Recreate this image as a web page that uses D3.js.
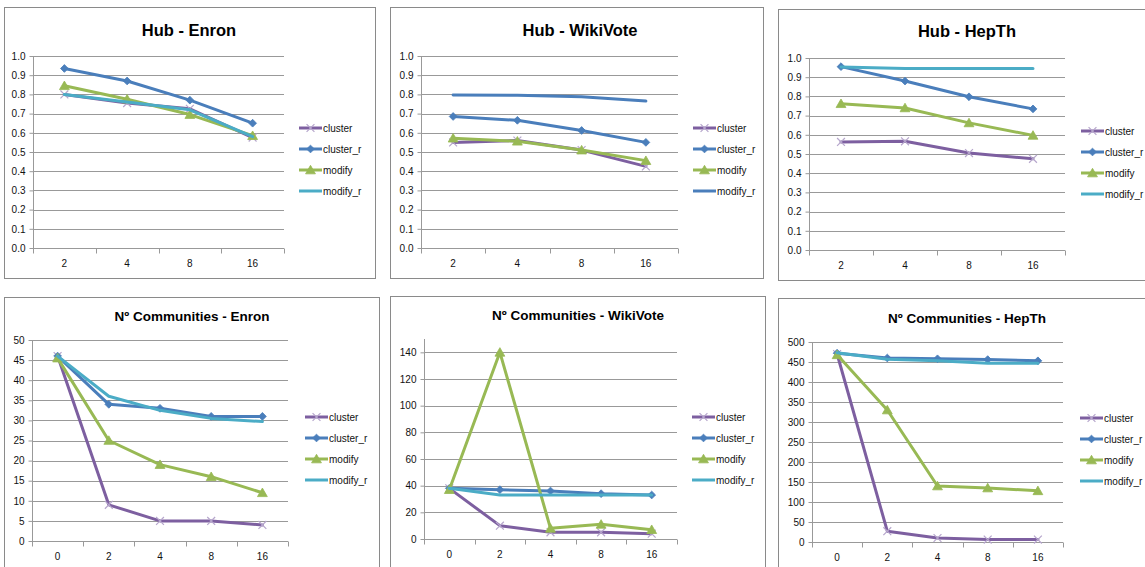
<!DOCTYPE html>
<html>
<head>
<meta charset="utf-8">
<script src="https://cdn.jsdelivr.net/npm/d3@7"></script>
<style>
  html, body { margin: 0; padding: 0; background: #fff; }
  svg { display: block; font-family: "Liberation Sans", Arial, sans-serif; }
</style>
</head>
<body>
<svg id="chart" width="1145" height="567"></svg>
<script>
// ---------------- DATA ----------------
const seriesNames = ["cluster", "cluster_r", "modify", "modify_r"];
const hubCategories = ["2", "4", "8", "16"];
const commCategories = ["0", "2", "4", "8", "16"];

// Hub - Enron
const hubEnronCluster  = [0.80, 0.755, 0.725, 0.575];
const hubEnronClusterR = [0.935, 0.87, 0.77, 0.65];
const hubEnronModify   = [0.845, 0.775, 0.695, 0.585];
const hubEnronModifyR  = [0.80, 0.76, 0.72, 0.58];

// Hub - WikiVote
const hubWikiCluster  = [0.55, 0.56, 0.51, 0.425];
const hubWikiClusterR = [0.685, 0.665, 0.612, 0.55];
const hubWikiModify   = [0.572, 0.556, 0.51, 0.455];
const hubWikiModifyR  = [0.797, 0.795, 0.788, 0.765];

// Hub - HepTh
const hubHepCluster  = [0.563, 0.566, 0.505, 0.475];
const hubHepClusterR = [0.955, 0.88, 0.798, 0.735];
const hubHepModify   = [0.762, 0.74, 0.662, 0.597];
const hubHepModifyR  = [0.953, 0.945, 0.945, 0.945];

// Nº Communities - Enron
const comEnronCluster  = [46, 9, 5, 5, 4];
const comEnronClusterR = [46, 34, 33, 31, 31];
const comEnronModify   = [45.5, 25, 19, 16, 12];
const comEnronModifyR  = [46, 36, 32.5, 30.5, 29.7];

// Nº Communities - WikiVote
const comWikiCluster  = [38, 10, 5, 5, 4];
const comWikiClusterR = [38, 37, 36, 34, 33];
const comWikiModify   = [37, 140, 8, 11, 7];
const comWikiModifyR  = [38, 33, 33, 33, 33];

// Nº Communities - HepTh
const comHepCluster  = [470, 27, 10, 6, 6];
const comHepClusterR = [472, 460, 458, 456, 453];
const comHepModify   = [468, 330, 140, 135, 128];
const comHepModifyR  = [473, 457, 453, 447, 447];

// ---------------- STYLE ----------------
const colors = {
  cluster: "#7D5FA0",
  cluster_r: "#4A7EBB",
  modify: "#98B954",
  modify_r: "#4BACC6"
};
const markerFill = {
  cluster: "#B6A6CC",
  cluster_r: "#4A7EBB",
  modify: "#98B954",
  modify_r: null
};
const gridColor = "#999999";
const borderColor = "#8a8a8a";

// ---------------- LAYOUT ----------------
const charts = [
  { title: "Hub - Enron", cats: hubCategories,
    values: [hubEnronCluster, hubEnronClusterR, hubEnronModify, hubEnronModifyR],
    panel: [4.5, 7.5, 371, 271], plot: { l: 33, t: 56, r: 284, b: 248 },
    ymax: 1.0, step: 0.1, fmt: ".1f", titleX: 189, titleY: 30, titleSize: 16.5,
    legX: 299, legY: 128 },
  { title: "Hub - WikiVote", cats: hubCategories,
    values: [hubWikiCluster, hubWikiClusterR, hubWikiModify, hubWikiModifyR],
    panel: [390.5, 7.5, 373, 271], plot: { l: 421, t: 56, r: 678, b: 248 },
    ymax: 1.0, step: 0.1, fmt: ".1f", titleX: 580, titleY: 30, titleSize: 16.5,
    legX: 693, legY: 128, override: { modify_r: "#4A7EBB" } },
  { title: "Hub - HepTh", cats: hubCategories,
    values: [hubHepCluster, hubHepClusterR, hubHepModify, hubHepModifyR],
    panel: [778.5, 9.5, 380, 271], plot: { l: 809, t: 58, r: 1065, b: 250 },
    ymax: 1.0, step: 0.1, fmt: ".1f", titleX: 967, titleY: 31, titleSize: 16.5,
    legX: 1081, legY: 131 },
  { title: "Nº Communities - Enron", cats: commCategories,
    values: [comEnronCluster, comEnronClusterR, comEnronModify, comEnronModifyR],
    panel: [4.5, 297.5, 375, 300], plot: { l: 32, t: 340, r: 288, b: 541 },
    ymax: 50, step: 5, fmt: "d", titleX: 192, titleY: 316, titleSize: 13.5,
    legX: 305, legY: 417 },
  { title: "Nº Communities - WikiVote", cats: commCategories,
    values: [comWikiCluster, comWikiClusterR, comWikiModify, comWikiModifyR],
    panel: [390.5, 296.5, 375, 300], plot: { l: 424, t: 339, r: 677, b: 539 },
    ymax: 150, step: 20, fmt: "d", titleX: 578, titleY: 315, titleSize: 13.5,
    legX: 692, legY: 417 },
  { title: "Nº Communities - HepTh", cats: commCategories,
    values: [comHepCluster, comHepClusterR, comHepModify, comHepModifyR],
    panel: [778.5, 298.5, 380, 300], plot: { l: 812, t: 342, r: 1063, b: 542 },
    ymax: 500, step: 50, fmt: "d", titleX: 967, titleY: 318, titleSize: 13.5,
    legX: 1080, legY: 418 }
];

const svg = d3.select("#chart");

function drawMarker(g, name, x, y, color) {
  if (name === "cluster") {
    g.append("path")
      .attr("d", d3.symbol().type(d3.symbolX).size(42)())
      .attr("transform", `translate(${x},${y})`)
      .attr("fill", "none").attr("stroke", markerFill.cluster).attr("stroke-width", 1.2);
  } else if (name === "cluster_r") {
    g.append("path")
      .attr("d", d3.symbol().type(d3.symbolSquare).size(30)())
      .attr("transform", `translate(${x},${y}) rotate(45)`)
      .attr("fill", color).attr("stroke", color).attr("stroke-width", 0.8);
  } else if (name === "modify") {
    g.append("path")
      .attr("d", d3.symbol().type(d3.symbolTriangle).size(42)())
      .attr("transform", `translate(${x},${y + 1})`)
      .attr("fill", color).attr("stroke", color).attr("stroke-width", 0.8);
  }
}

charts.forEach(c => {
  const g = svg.append("g");
  // panel border
  g.append("rect")
    .attr("x", c.panel[0]).attr("y", c.panel[1])
    .attr("width", c.panel[2]).attr("height", c.panel[3])
    .attr("fill", "#fff").attr("stroke", borderColor).attr("stroke-width", 1);

  const x = d3.scaleBand().domain(c.cats).range([c.plot.l, c.plot.r]).padding(0);
  const y = d3.scaleLinear().domain([0, c.ymax]).range([c.plot.b, c.plot.t]);
  const ticks = d3.range(0, c.ymax + c.step / 2, c.step).filter(v => v <= c.ymax + 1e-9);
  const fmt = d3.format(c.fmt);

  // gridlines
  g.append("g").selectAll("line").data(ticks.filter(v => v > 0)).join("line")
    .attr("x1", c.plot.l).attr("x2", c.plot.r)
    .attr("y1", d => Math.round(y(d)) + 0.5).attr("y2", d => Math.round(y(d)) + 0.5)
    .attr("stroke", gridColor).attr("stroke-width", 1);

  // y axis
  const yAxis = d3.axisLeft(y).tickValues(ticks).tickFormat(fmt).tickSize(4).tickPadding(4);
  const ya = g.append("g").attr("transform", `translate(${Math.round(c.plot.l) + 0.5},0)`).call(yAxis);
  ya.select(".domain").attr("stroke", gridColor).attr("d", `M0,${c.plot.t}V${c.plot.b}`);
  ya.selectAll(".tick line").attr("stroke", gridColor);
  ya.selectAll(".tick text").attr("fill", "#111").style("font-size", "10px")
    .style("font-family", "'Liberation Sans', Arial, sans-serif");

  // x axis
  const xAxis = d3.axisBottom(x).tickSize(0).tickPadding(11);
  const xa = g.append("g").attr("transform", `translate(0,${Math.round(c.plot.b) + 0.5})`).call(xAxis);
  xa.select(".domain").attr("stroke", gridColor).attr("d", `M${c.plot.l},0H${c.plot.r}`);
  xa.selectAll(".tick text").attr("fill", "#111").style("font-size", "10px")
    .style("font-family", "'Liberation Sans', Arial, sans-serif");
  // category boundary tick marks
  const bounds = c.cats.map(d => x(d)).concat([x(c.cats[c.cats.length - 1]) + x.bandwidth()]);
  xa.append("g").selectAll("line").data(bounds).join("line")
    .attr("x1", d => Math.round(d) + 0.5).attr("x2", d => Math.round(d) + 0.5)
    .attr("y1", 0).attr("y2", 5).attr("stroke", gridColor);

  // series
  const line = d3.line().x((d, i) => x(c.cats[i]) + x.bandwidth() / 2).y(d => y(d));
  seriesNames.forEach((name, si) => {
    const col = (c.override && c.override[name]) || colors[name];
    const vals = c.values[si];
    g.append("path").datum(vals).attr("d", line)
      .attr("fill", "none").attr("stroke", col).attr("stroke-width", 3)
      .attr("stroke-linejoin", "round").attr("stroke-linecap", "round");
    vals.forEach((v, i) => drawMarker(g, name, x(c.cats[i]) + x.bandwidth() / 2, y(v), col));
  });

  // title
  g.append("text").attr("x", c.titleX).attr("y", c.titleY)
    .attr("text-anchor", "middle").attr("dominant-baseline", "central")
    .style("font-size", c.titleSize + "px").style("font-weight", "bold").attr("fill", "#000")
    .text(c.title);

  // legend
  seriesNames.forEach((name, si) => {
    const col = (c.override && c.override[name]) || colors[name];
    const ly = c.legY + si * 21;
    g.append("line").attr("x1", c.legX).attr("x2", c.legX + 23)
      .attr("y1", ly).attr("y2", ly).attr("stroke", col).attr("stroke-width", 3);
    drawMarker(g, name, c.legX + 11.5, ly, col);
    g.append("text").attr("x", c.legX + 24).attr("y", ly)
      .attr("dominant-baseline", "central").style("font-size", "10px").attr("fill", "#111")
      .text(name);
  });
});
</script>
</body>
</html>
